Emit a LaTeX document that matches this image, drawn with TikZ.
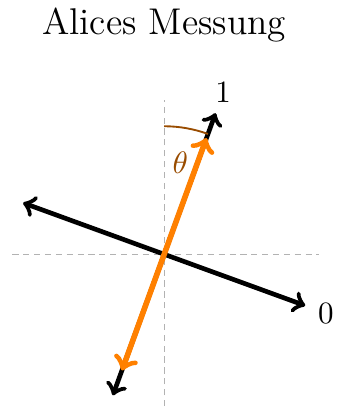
\documentclass[tikz,border=0pt]{standalone}
\begin{document}
\begin{tikzpicture}[>=to,font=\normalsize]
    \useasboundingbox (-1.86,-1.73) rectangle (1.96,2.88);
    \node (title) at (0,2.6) {\large Alices Messung};
    \draw[gray!60,dash pattern=on 2pt off 1.5pt] (0,-1.72)coordinate(s)--(0,1.75)coordinate(n);
    \draw[gray!60,dash pattern=on 2pt off 1.5pt] (-1.72,0)coordinate(w)--(1.75,0)coordinate(e);
    \draw[line width=1.5pt,<->] (250:1.7)coordinate(m1)--(70:1.7)coordinate(p1);
    \draw[line width=1.5pt,<->] (160:1.7)coordinate(m0)--(-20:1.7)coordinate(p0);
    \node (l1) at (70:1.95) {1};
    \node (l0) at (-20:1.95) {0};
    \draw[semithick,orange!60!black] (90:1.45)coordinate(a)arc(90:70:1.45)coordinate(b);
    \node[text=orange!60!black] (th) at (80:1.05) {\(\theta\)};
    \draw[line width=1.8pt,orange,<->] (250:1.4)coordinate(q)--(70:1.4)coordinate(r);
\end{tikzpicture}
\end{document}
